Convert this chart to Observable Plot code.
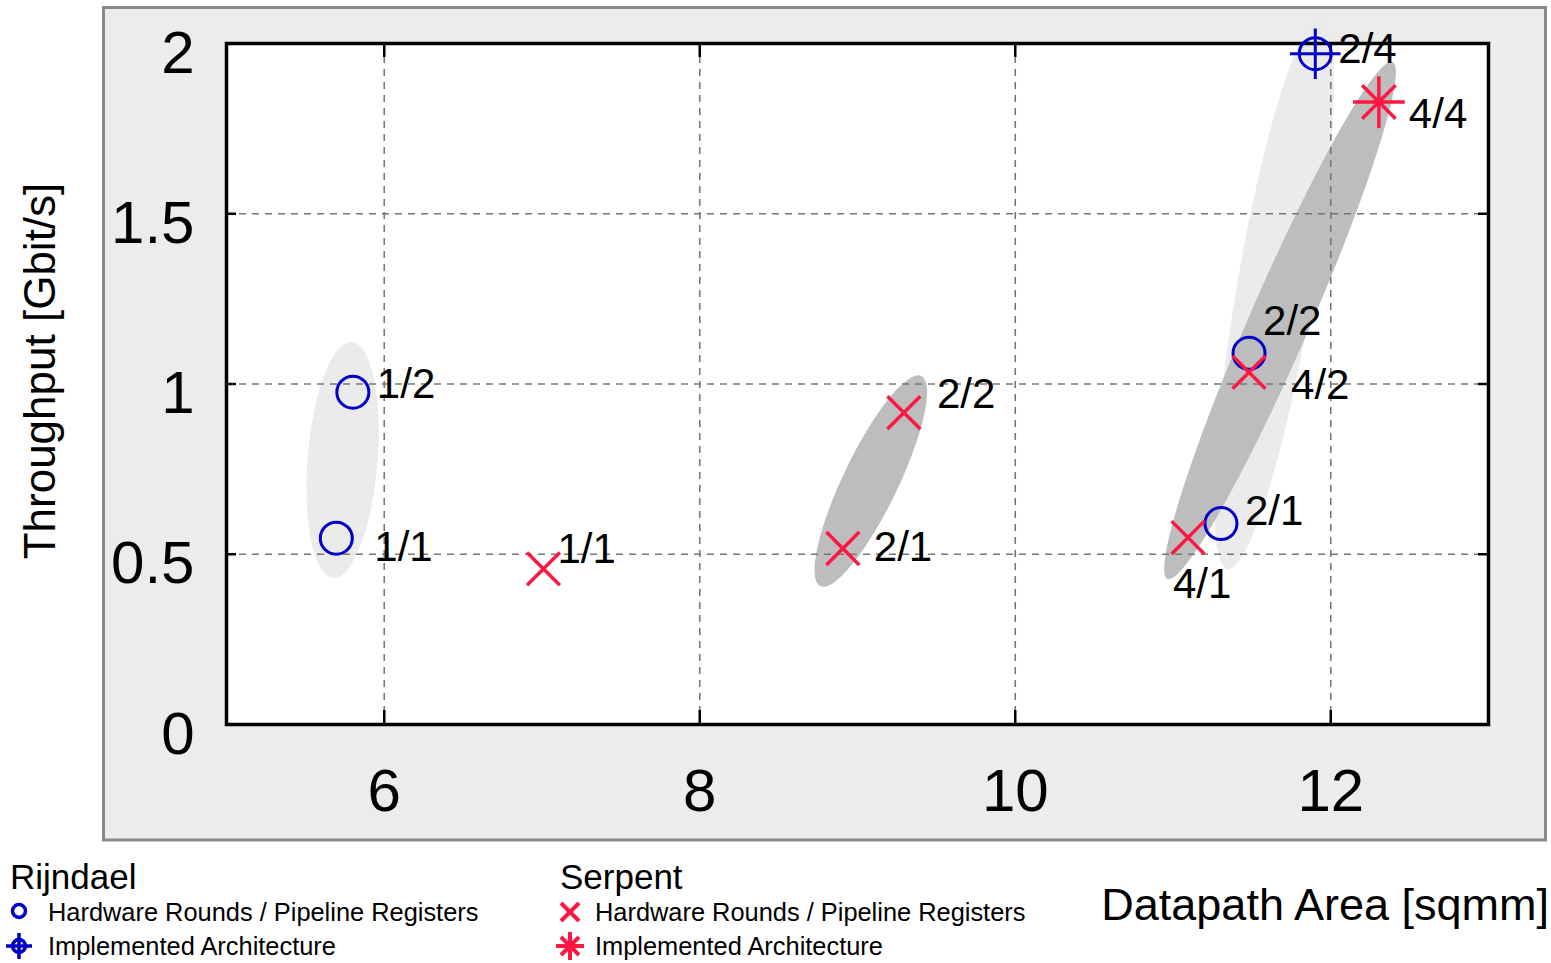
<!DOCTYPE html>
<html><head><meta charset="utf-8">
<script src="https://cdn.jsdelivr.net/npm/d3@7"></script>
<script src="https://cdn.jsdelivr.net/npm/@observablehq/plot@0.6"></script>
<style>
html,body{margin:0;padding:0;background:#fff;}
#wrap{position:relative;width:1551px;height:963px;font-family:"Liberation Sans",Arial,Helvetica,sans-serif;overflow:hidden;}
#foot{position:absolute;left:0;top:850px;width:1551px;height:113px;}
.t{position:absolute;white-space:nowrap;line-height:1;color:#000;}
.ic{position:absolute;overflow:visible;}
</style></head>
<body><div id="wrap"><div id="chart"></div>
<div id="foot">
  <div class="t" style="left:10px;top:9px;font-size:35px">Rijndael</div>
  <svg class="ic" style="left:5px;top:47px" width="28" height="28"><circle cx="14" cy="14" r="6.5" fill="none" stroke="#0000c8" stroke-width="3.5"/></svg>
  <div class="t" style="left:48px;top:50px;font-size:25.4px">Hardware Rounds / Pipeline Registers</div>
  <svg class="ic" style="left:5px;top:82px" width="28" height="28"><circle cx="14" cy="14" r="6.5" fill="none" stroke="#0000c8" stroke-width="3.5"/><path d="M1,14H27M14,1V27" stroke="#0000c8" stroke-width="3.5"/></svg>
  <div class="t" style="left:48px;top:84px;font-size:25.4px">Implemented Architecture</div>

  <div class="t" style="left:560px;top:9px;font-size:35px">Serpent</div>
  <svg class="ic" style="left:556px;top:48px" width="28" height="28"><path d="M5,5L23,23M5,23L23,5" stroke="#ff1744" stroke-width="4"/></svg>
  <div class="t" style="left:595px;top:50px;font-size:25.4px">Hardware Rounds / Pipeline Registers</div>
  <svg class="ic" style="left:556px;top:82px" width="28" height="28"><path d="M0,14H28M14,0V28M5,5L23,23M5,23L23,5" stroke="#ff1744" stroke-width="4"/></svg>
  <div class="t" style="left:595px;top:84px;font-size:25.4px">Implemented Architecture</div>

  <div class="t" style="right:2px;top:32px;font-size:45px">Datapath Area [sqmm]</div>
</div></div>
<script>
// ---- data ----
const rijndaelArea = [5.696, 5.801, 11.304, 11.482];
const rijndaelThroughput = [0.547, 0.976, 0.590, 1.090];
const rijndaelLabels = ["1/1", "1/2", "2/1", "2/2"];
const rijndaelImplArea = [11.902];
const rijndaelImplThroughput = [1.970];
const rijndaelImplLabels = ["2/4"];

const serpentArea = [7.009, 8.907, 9.294, 11.095, 11.482];
const serpentThroughput = [0.457, 0.517, 0.916, 0.549, 1.034];
const serpentLabels = ["1/1", "2/1", "2/2", "4/1", "4/2"];
const serpentImplArea = [12.305];
const serpentImplThroughput = [1.828];
const serpentImplLabels = ["4/4"];

// cluster ellipses: major-axis tips in data coordinates
const rijndaelClusters = [
  {x1: 5.679, y1: 0.429, x2: 5.799, y2: 1.122},
  {x1: 11.349, y1: 0.455, x2: 11.939, y2: 2.073}
];
const serpentClusters = [
  {x1: 8.767, y1: 0.405, x2: 9.408, y2: 1.022},
  {x1: 10.968, y1: 0.426, x2: 12.395, y2: 1.944}
];

const xTicks = [6, 8, 10, 12];
const yTicks = [0, 0.5, 1, 1.5, 2];
const xLabel = "Datapath Area [sqmm]";
const yLabel = "Throughput [Gbit/s]";

// ---- styles / layout ----
const BLUE = "#0000c8", RED = "#ff1744";
const W = 1551, H = 850, mL = 226, mR = 63, mT = 43, mB = 126;
const innerW = W - mL - mR, innerH = H - mT - mB;
const rijndaelClusterHalfWidth = [35, 38];
const serpentClusterHalfWidth = [27.5, 30];
const rijndaelLabelOffsets = [[38, 9], [24, -8], [24, -12], [14, -32]];
const rijndaelImplLabelOffsets = [[23, -4]];
const serpentLabelOffsets = [[14, -19], [31, -1], [33, -18], [-15, 47], [42, 13]];
const serpentImplLabelOffsets = [[30, 12]];

const rows = (xs, ys, ls) => xs.map((x, i) => ({x, y: ys[i], label: ls[i]}));
const rijndael = rows(rijndaelArea, rijndaelThroughput, rijndaelLabels);
const rijndaelImpl = rows(rijndaelImplArea, rijndaelImplThroughput, rijndaelImplLabels);
const serpent = rows(serpentArea, serpentThroughput, serpentLabels);
const serpentImpl = rows(serpentImplArea, serpentImplThroughput, serpentImplLabels);

const outerBox = () => d3.create("svg:rect")
    .attr("x", 103.5).attr("y", 7.5)
    .attr("width", 1545.5 - 103.5).attr("height", 840 - 7.5)
    .attr("fill", "#ececec").attr("stroke", "#8a8a8a").attr("stroke-width", 3).node();

const ellipses = (clusters, halfWidths, fill) => (index, scales) => {
  const g = d3.create("svg:g");
  clusters.forEach((e, i) => {
    const x1 = scales.x(e.x1), y1 = scales.y(e.y1), x2 = scales.x(e.x2), y2 = scales.y(e.y2);
    const cx = (x1 + x2) / 2, cy = (y1 + y2) / 2;
    const a = Math.hypot(x2 - x1, y2 - y1) / 2;
    const ang = Math.atan2(y2 - y1, x2 - x1) * 180 / Math.PI;
    g.append("ellipse").attr("cx", cx).attr("cy", cy).attr("rx", a).attr("ry", halfWidths[i])
      .attr("transform", `rotate(${ang},${cx},${cy})`).attr("fill", fill);
  });
  return g.node();
};

const labelMarks = (data, offs) => data.map((d, i) => Plot.text([d], {
  x: "x", y: "y", text: "label", dx: offs[i][0], dy: offs[i][1],
  textAnchor: "start", lineAnchor: "middle", fontSize: 42, fill: "black"
}));

const grid = {stroke: "#777", strokeOpacity: 1, strokeWidth: 1.6, strokeDasharray: "7,6"};

const chart = Plot.plot({
  width: W, height: H,
  marginLeft: mL, marginRight: mR, marginTop: mT, marginBottom: mB,
  style: {fontFamily: "'Liberation Sans', Arial, Helvetica, sans-serif", background: "transparent", overflow: "visible", color: "black"},
  x: {domain: [5, 13], label: null},
  y: {domain: [0, 2], label: null},
  marks: [
    outerBox,
    Plot.frame({fill: "white", stroke: null}),
    ellipses(rijndaelClusters, rijndaelClusterHalfWidth, "#ebebeb"),
    ellipses(serpentClusters, serpentClusterHalfWidth, "#bdbdbd"),
    Plot.gridX(xTicks, grid),
    Plot.gridY(yTicks.filter(t => t > 0 && t < 2), grid),
    // inward ticks
    Plot.ruleX(xTicks, {x: d => d, insetTop: innerH - 14, stroke: "black", strokeWidth: 2.5}),
    Plot.ruleX(xTicks, {x: d => d, insetBottom: innerH - 14, stroke: "black", strokeWidth: 2.5}),
    Plot.ruleY(yTicks, {y: d => d, insetRight: innerW - 10, stroke: "black", strokeWidth: 2.5}),
    Plot.ruleY(yTicks, {y: d => d, insetLeft: innerW - 10, stroke: "black", strokeWidth: 2.5}),
    Plot.frame({stroke: "black", strokeWidth: 3.5}),
    Plot.axisX(xTicks, {tickSize: 0, tickPadding: 44, fontSize: 60, label: null, tickFormat: d => String(d)}),
    Plot.axisY(yTicks, {tickSize: 0, tickPadding: 32, fontSize: 60, dy: 10, label: null, tickFormat: d => String(d)}),
    Plot.text([yLabel], {text: d => d, frameAnchor: "left", textAnchor: "middle", lineAnchor: "middle", rotate: -90, dx: -186, dy: -13, fontSize: 44, fill: "black"}),
    // markers
    Plot.dot(rijndael, {x: "x", y: "y", symbol: "circle", r: 16, stroke: BLUE, strokeWidth: 3, fill: "none"}),
    Plot.dot(rijndaelImpl, {x: "x", y: "y", symbol: "circle", r: 16, stroke: BLUE, strokeWidth: 3, fill: "none"}),
    Plot.dot(rijndaelImpl, {x: "x", y: "y", symbol: "plus", r: 16.3, stroke: BLUE, strokeWidth: 3}),
    Plot.dot(serpent, {x: "x", y: "y", symbol: "times", r: 15, stroke: RED, strokeWidth: 3.5}),
    Plot.dot(serpentImpl, {x: "x", y: "y", symbol: "plus", r: 16.7, stroke: RED, strokeWidth: 3.5}),
    Plot.dot(serpentImpl, {x: "x", y: "y", symbol: "times", r: 15.3, stroke: RED, strokeWidth: 3.5}),
    ...labelMarks(rijndael, rijndaelLabelOffsets),
    ...labelMarks(rijndaelImpl, rijndaelImplLabelOffsets),
    ...labelMarks(serpent, serpentLabelOffsets),
    ...labelMarks(serpentImpl, serpentImplLabelOffsets)
  ]
});
document.getElementById("chart").appendChild(chart);
</script>
</body></html>
